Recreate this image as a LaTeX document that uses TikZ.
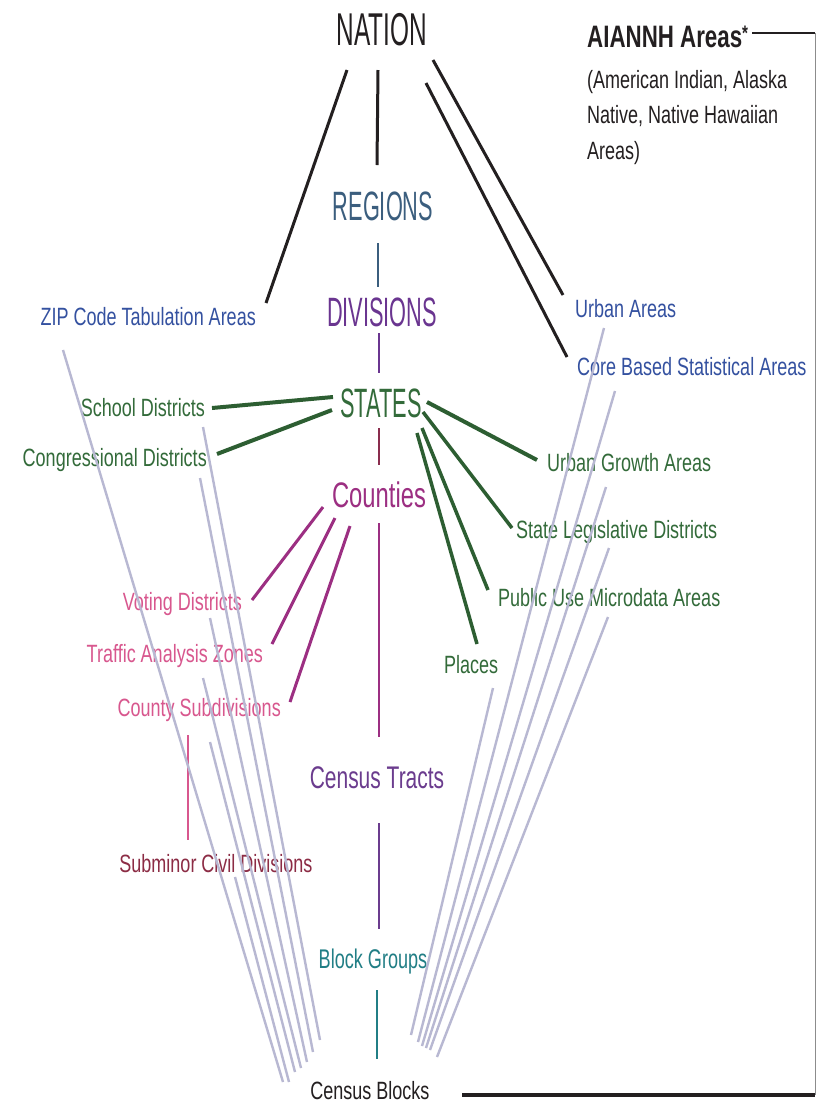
\documentclass[tikz,border=0pt]{standalone}
\usepackage{fontspec}
\setmainfont{Liberation Sans}
\newfontfamily\narf[FakeStretch=0.72]{Liberation Sans}
\newfontfamily\midf[FakeStretch=0.67]{Liberation Sans}
\newfontfamily\titf[FakeStretch=0.53]{Liberation Sans}
\usetikzlibrary{calc}
\definecolor{nationc}{HTML}{231F20}
\definecolor{regc}{HTML}{3B5E7E}
\definecolor{divc}{HTML}{6A3590}
\definecolor{greenc}{HTML}{336B3A}
\definecolor{greenl}{HTML}{2D5E32}
\definecolor{countc}{HTML}{9C2F82}
\definecolor{bluec}{HTML}{3451A0}
\definecolor{pinkc}{HTML}{D8578E}
\definecolor{redc}{HTML}{8C2C45}
\definecolor{tractc}{HTML}{6B3C8E}
\definecolor{bgc}{HTML}{217E85}
\definecolor{grayc}{HTML}{B8B8D2}
\definecolor{stcoc}{HTML}{8A2D4E}
\tikzset{
  lab/.style={inner sep=0pt, font=\narf\fontsize{25}{25}\selectfont},
  title/.style={inner sep=0pt, anchor=base, font=\titf\fontsize{41}{41}\selectfont},
  blk/.style={draw=nationc, line width=3pt},
  grn/.style={draw=greenl, line width=4pt},
  mag/.style={draw=countc, line width=3pt},
  fan/.style={draw=grayc, line width=2.4pt},
  spine/.style={line width=2.2pt}
}
\begin{document}
\begin{tikzpicture}[x=1pt,y=-1pt]
\fill[white] (0,0) rectangle (817,1104);
\useasboundingbox (0,0) rectangle (817,1104);

% main column
\node[title, text=nationc, font=\titf\fontsize{46}{46}\selectfont] (nation) at (382,45) {NATION};
\node[title, text=regc] (regions) at (383,220) {REGIONS};
\node[title, text=divc] (divisions) at (382,326) {DIVISIONS};
\node[title, text=greenc] (states) at (381,417) {STATES};
\node[inner sep=0pt, anchor=base, text=countc, font=\midf\fontsize{35.5}{35.5}\selectfont] (counties) at (379,507) {Counties};
\node[inner sep=0pt, anchor=base, text=tractc, font=\midf\fontsize{31.3}{31.3}\selectfont] (tracts) at (377,788) {Census Tracts};
\node[inner sep=0pt, anchor=base, text=bgc, font=\midf\fontsize{27}{27}\selectfont] (bg) at (373,968) {Block Groups};
\node[lab, anchor=base, text=nationc] (cb) at (370,1099) {Census Blocks};

% AIANNH
\node[inner sep=0pt, anchor=base west, text=nationc, font=\narf\bfseries\fontsize{31}{31}\selectfont] (aiannh) at (587,47) {AIANNH Areas\raisebox{7pt}{\fontsize{21}{21}\selectfont *}};
\node[inner sep=0pt, anchor=north west, align=left, text=nationc, font=\narf\fontsize{25}{35.5}\selectfont] (aidesc) at (587,70) {(American Indian, Alaska\\Native, Native Hawaiian\\Areas)};

% side labels
\node[lab, text=bluec, anchor=base east] (zip) at (256,325) {ZIP Code Tabulation Areas};
\node[lab, text=bluec, anchor=base west] (urban) at (575,317) {Urban Areas};
\node[lab, text=bluec, anchor=base west] (cbsa) at (577,375) {Core Based Statistical Areas};
\node[lab, text=greenc, anchor=base east] (school) at (205,416) {School Districts};
\node[lab, text=greenc, anchor=base east] (cong) at (207,466) {Congressional Districts};
\node[lab, text=greenc, anchor=base west] (uga) at (547,471) {Urban Growth Areas};
\node[lab, text=greenc, anchor=base west] (sld) at (516,538) {State Legislative Districts};
\node[lab, text=greenc, anchor=base west] (puma) at (498,606) {Public Use Microdata Areas};
\node[lab, text=greenc, anchor=base west] (places) at (444,673) {Places};
\node[lab, text=pinkc, anchor=base east] (voting) at (242,610) {Voting Districts};
\node[lab, text=pinkc, anchor=base east] (taz) at (263,662) {Traffic Analysis Zones};
\node[lab, text=pinkc, anchor=base east] (cousub) at (281,716) {County Subdivisions};
\node[lab, text=redc, anchor=base] (subminor) at (216,872) {Subminor Civil Divisions};

% black connectors from NATION
\draw[blk] ($(nation.base)+(-35,25)$) -- ($(zip.base east)+(10,-22)$);
\draw[blk] ($(nation.base)+(-4,25)$) -- ($(regions.base)+(-6,-55)$);
\draw[blk] ($(nation.base)+(51,15)$) -- ($(urban.base west)+(-12,-22)$);
\draw[blk] ($(nation.base)+(44,38)$) -- ($(cbsa.base west)+(-10,-18)$);

% spine
\draw[spine, regc] ($(regions.base)+(-5,23)$) -- ($(divisions.base)+(-4,-39)$);
\draw[spine, divc] ($(divisions.base)+(-3,7)$) -- ($(states.base)+(-2,-44)$);
\draw[spine, stcoc] ($(states.base)+(-2,11)$) -- ($(counties.base)+(0,-42)$);
\draw[spine, countc, line width=2.6pt] ($(counties.base)+(0,16)$) -- ($(tracts.base)+(2,-51)$);
\draw[spine, tractc] ($(tracts.base)+(2,35)$) -- ($(bg.base)+(6,-39)$);
\draw[spine, bgc] ($(bg.base)+(4,22)$) -- ($(cb.base)+(7,-40)$);

% green from STATES
\draw[grn] ($(states.base)+(-48,-20)$) -- ($(school.base east)+(7,-8)$);
\draw[grn] ($(states.base)+(-49,-7)$) -- ($(cong.base east)+(10,-12)$);
\draw[grn] ($(states.base)+(46,-15)$) -- ($(uga.base west)+(-10,-11)$);
\draw[grn, line width=3.5pt] ($(states.base)+(42,-5)$) -- ($(sld.base west)+(-4,-10)$);
\draw[grn, line width=3.5pt] ($(states.base)+(41,11)$) -- ($(puma.base west)+(-10,-16)$);
\draw[grn, line width=3.5pt] ($(states.base)+(36,16)$) -- ($(places.base west)+(33,-29)$);

% magenta from Counties
\draw[mag] ($(counties.base)+(-56,0)$) -- ($(voting.base east)+(10,-10)$);
\draw[mag] ($(counties.base)+(-44,11)$) -- ($(taz.base east)+(9,-18)$);
\draw[mag] ($(counties.base)+(-29,19)$) -- ($(cousub.base east)+(9,-14)$);
\draw[draw=pinkc, line width=2.2pt] ($(cousub.base east)+(-93,19)$) -- ($(subminor.base)+(-28,-32)$);

% fan lines to Census Blocks (left)
\draw[fan] ($(zip.base east)+(-193,25)$) -- ($(cb.base)+(-87,-17)$);
\draw[fan] ($(school.base east)+(-2,11)$) -- ($(cb.base)+(-50,-59)$);
\draw[fan] ($(cong.base east)+(-7,12)$) -- ($(cb.base)+(-57,-47)$);
\draw[fan] ($(voting.base east)+(-32,8)$) -- ($(cb.base)+(-63,-37)$);
\draw[fan] ($(taz.base east)+(-60,16)$) -- ($(cb.base)+(-69,-31)$);
\draw[fan] ($(cousub.base east)+(-71,26)$) -- ($(cb.base)+(-75,-27)$);
\draw[fan] ($(subminor.base)+(19,5)$) -- ($(cb.base)+(-81,-17)$);
% fan lines to Census Blocks (right)
\draw[fan] ($(urban.base west)+(29,11)$) -- ($(cb.base)+(48,-57)$);
\draw[fan] ($(cbsa.base west)+(38,16)$) -- ($(cb.base)+(52,-53)$);
\draw[fan] ($(uga.base west)+(59,16)$) -- ($(cb.base)+(56,-51)$);
\draw[fan] ($(sld.base west)+(93,10)$) -- ($(cb.base)+(60,-49)$);
\draw[fan] ($(puma.base west)+(110,11)$) -- ($(cb.base)+(67,-42)$);
\draw[fan] ($(places.base west)+(49,15)$) -- ($(cb.base)+(41,-64)$);

% AIANNH bracket
\coordinate (brtop) at (815,33);
\coordinate (brbot) at (815,1095);
\draw[draw=nationc, line width=2pt] ($(aiannh.base west)+(165,-14)$) -- (brtop);
\draw[draw=black!45, line width=0.8pt] (brtop) -- (brbot);
\draw[draw=nationc, line width=3.5pt] ($(cb.base)+(92,-4)$) -- (brbot);
\end{tikzpicture}
\end{document}
